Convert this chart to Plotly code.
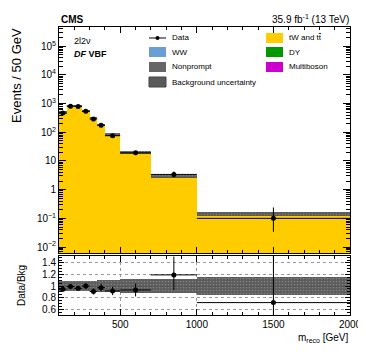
import numpy as np
import plotly.graph_objects as go

# ---- data ----
bin_edges = [100, 150, 200, 250, 300, 350, 400, 500, 700, 1000, 2000]
data_vals = [468, 810, 800, 540, 290, 177, 76, 19.2, 3.4, 0.10]
data_err_up = [23, 32, 32, 27, 17, 12, 6, 2.3, 0.9, 0.14]
data_err_down = [23, 32, 32, 27, 17, 12, 6, 2.3, 0.75, 0.066]
bkg_tw_tt = [495, 818, 833, 540, 320, 182, 83, 20.6, 2.85, 0.14]
bkg_unc_rel = [0.09, 0.08, 0.08, 0.09, 0.09, 0.10, 0.11, 0.12, 0.12, 0.15]
ytick_vals = [0.01, 0.1, 1, 10, 100, 1000, 1e4, 1e5]
ytick_text = ["10<sup>−2</sup>", "10<sup>−1</sup>", "1", "10", "10<sup>2</sup>",
              "10<sup>3</sup>", "10<sup>4</sup>", "10<sup>5</sup>"]
rtick_vals = [0.6, 0.8, 1.0, 1.2, 1.4]
rtick_text = ["0.6", "0.8", "1", "1.2", "1.4"]
xtick_vals = [500, 1000, 1500, 2000]

edges = np.array(bin_edges, dtype=float)
centers = 0.5 * (edges[:-1] + edges[1:])
widths = edges[1:] - edges[:-1]
data = np.array(data_vals)
eup = np.array(data_err_up)
edn = np.array(data_err_down)
bkg = np.array(bkg_tw_tt)
unc = np.array(bkg_unc_rel)
ratio = data / bkg

FONT = "Liberation Sans, Arial, sans-serif"
fig = go.Figure()

band_marker = dict(color="#4a4a4a", line=dict(width=0),
                   pattern=dict(shape=".", fgcolor="#9a9a9a", size=3, solidity=0.25))

# main stack
fig.add_trace(go.Bar(x=centers, y=bkg, width=widths, marker=dict(color="#ffcc00", line=dict(width=0)),
                     showlegend=False, xaxis="x", yaxis="y"))
# uncertainty band main
fig.add_trace(go.Bar(x=centers, y=bkg * 2 * unc, base=bkg * (1 - unc), width=widths,
                     marker=band_marker, opacity=0.9, showlegend=False, xaxis="x", yaxis="y"))
# data main
fig.add_trace(go.Scatter(x=centers, y=data, mode="markers",
                         marker=dict(color="black", size=5),
                         error_y=dict(type="data", array=eup, arrayminus=edn, color="black", thickness=1, width=0),
                         error_x=dict(type="data", array=widths / 2, color="black", thickness=1, width=0),
                         showlegend=False, xaxis="x", yaxis="y"))
# ratio band
fig.add_trace(go.Bar(x=centers, y=2 * unc, base=1 - unc, width=widths,
                     marker=band_marker, opacity=0.9, showlegend=False, xaxis="x2", yaxis="y2"))
# ratio points
fig.add_trace(go.Scatter(x=centers, y=ratio, mode="markers",
                         marker=dict(color="black", size=5),
                         error_y=dict(type="data", array=eup / bkg, arrayminus=edn / bkg,
                                      color="black", thickness=1, width=0),
                         error_x=dict(type="data", array=widths / 2, color="black", thickness=1, width=0),
                         showlegend=False, xaxis="x2", yaxis="y2"))

ymin_vals = [m * 10.0 ** e for e in range(-3, 6) for m in range(2, 10)]

axcommon = dict(showline=True, linecolor="black", linewidth=1, mirror="ticks",
                ticks="inside", tickcolor="black", tickfont=dict(family=FONT, size=10, color="black"),
                zeroline=False)

fig.update_layout(
    width=366, height=347,
    margin=dict(l=51, r=16, t=19, b=40),
    plot_bgcolor="white", paper_bgcolor="white",
    barmode="overlay", bargap=0,
    showlegend=False,
    xaxis=dict(domain=[0, 1], range=[100, 2000], anchor="y", matches="x2",
               tickvals=xtick_vals, showticklabels=False, ticklen=6, showgrid=False,
               minor=dict(ticks="inside", ticklen=3, dtick=100, tickcolor="black", showgrid=False),
               **axcommon),
    yaxis=dict(domain=[0.215, 1], type="log", range=[-2.21, 5.67], anchor="x",
               tickvals=ytick_vals, ticktext=ytick_text, ticklen=7, showgrid=False,
               minor=dict(ticks="inside", ticklen=4, tickvals=ymin_vals, tickcolor="black", showgrid=False),
               **axcommon),
    xaxis2=dict(domain=[0, 1], range=[100, 2000], anchor="y2",
                tickvals=xtick_vals, ticklen=6, showgrid=True, gridcolor="#999", griddash="dot", gridwidth=1,
                minor=dict(ticks="inside", ticklen=3, dtick=100, tickcolor="black", showgrid=False),
                **axcommon),
    yaxis2=dict(domain=[0, 0.205], range=[0.5, 1.52], anchor="x2",
                tickvals=rtick_vals, ticktext=rtick_text, ticklen=5, showgrid=True,
                gridcolor="#999", griddash="dot", gridwidth=1,
                minor=dict(ticks="inside", ticklen=3, dtick=0.05, tickcolor="black", showgrid=False),
                **axcommon),
)

def px2x(px):
    return (px - 59) / 291.0

def py2y(py):
    return (315 - py) / 288.0

ann = []
shapes = []
def txt(text, px, py, size, xanchor="left", angle=0):
    ann.append(dict(text=text, x=px2x(px), y=py2y(py), xref="paper", yref="paper",
                    xanchor=xanchor, yanchor="middle", textangle=angle, showarrow=False,
                    font=dict(family=FONT, size=size, color="black")))

txt("<b>CMS</b>", 59, 19, 10)
txt("35.9 fb<sup>-1</sup> (13 TeV)", 351, 19, 10, xanchor="right")
txt("2l2ν", 72, 41, 9)
txt("<b><i>DF</i> VBF</b>", 72, 54, 9)
txt("Events / 50 GeV", 17, 76, 13, xanchor="center", angle=-90)
txt("Data/Bkg", 21, 286, 10, xanchor="center", angle=-90)
txt("m<sub>reco</sub> [GeV]", 351, 338, 10, xanchor="right")

# legend (manual)
left_items = [("Data", None), ("WW", "#6a9fd6"), ("Nonprompt", "#666666"), ("Background uncertainty", "band")]
right_items = [("tW and t<span style='text-decoration:overline'>t</span>", "#ffcc00"),
               ("DY", "#009900"), ("Multiboson", "#cc00cc")]
rows = [38, 52, 67, 82]
for (lab, col), ry in zip(left_items, rows):
    if col is None:
        shapes.append(dict(type="line", xref="paper", yref="paper", x0=px2x(149), x1=px2x(166),
                           y0=py2y(ry), y1=py2y(ry), line=dict(color="black", width=1)))
        shapes.append(dict(type="circle", xref="paper", yref="paper", x0=px2x(155.5), x1=px2x(159.5),
                           y0=py2y(ry + 2), y1=py2y(ry - 2), fillcolor="black", line=dict(color="black", width=0)))
    elif col == "band":
        shapes.append(dict(type="rect", xref="paper", yref="paper", x0=px2x(149), x1=px2x(166),
                           y0=py2y(ry + 5), y1=py2y(ry - 5), fillcolor="#5a5a5a", line=dict(color="#444", width=1)))
    else:
        shapes.append(dict(type="rect", xref="paper", yref="paper", x0=px2x(149), x1=px2x(166),
                           y0=py2y(ry + 5), y1=py2y(ry - 5), fillcolor=col, line=dict(width=0)))
    txt(lab, 170, ry, 8)
for (lab, col), ry in zip(right_items, rows[:3]):
    shapes.append(dict(type="rect", xref="paper", yref="paper", x0=px2x(266), x1=px2x(283),
                       y0=py2y(ry + 5), y1=py2y(ry - 5), fillcolor=col, line=dict(width=0)))
    txt(lab, 287, ry, 8)

fig.update_layout(annotations=ann, shapes=shapes)
fig.write_html("out.html")
